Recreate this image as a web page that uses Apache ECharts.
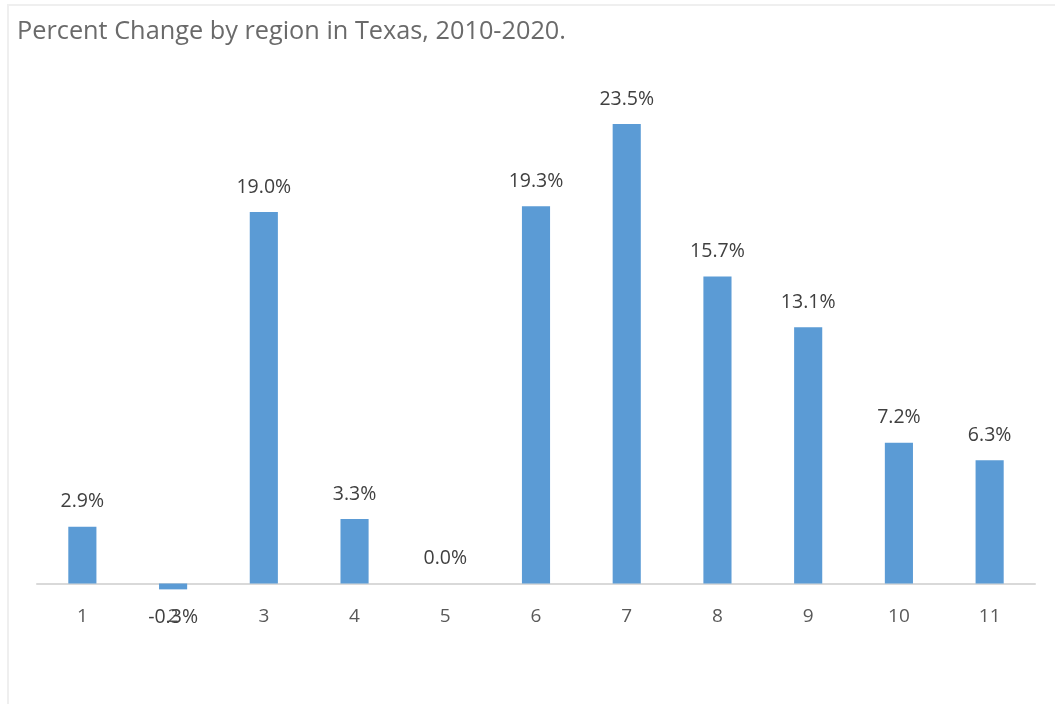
<!DOCTYPE html>
<html>
<head>
<meta charset="utf-8">
<script src="https://cdn.jsdelivr.net/npm/echarts@6/dist/echarts.min.js"></script>
<style>
html,body{margin:0;padding:0;background:#fff;}
#c{width:1055px;height:704px;}
</style>
</head>
<body>
<div id="c"></div>
<script>
const titleText = "Percent Change by region in Texas, 2010-2020.";
const categories = ["1","2","3","4","5","6","7","8","9","10","11"];
const values = [2.9, -0.3, 19.0, 3.3, 0.0, 19.3, 23.5, 15.7, 13.1, 7.2, 6.3];

const chart = echarts.init(document.getElementById('c'));
const FONT = '"Open Sans", "Noto Sans", sans-serif';
chart.setOption({
  animation: false,
  backgroundColor: '#fff',
  title: {
    text: titleText,
    left: 12, top: 14,
    textStyle: {fontFamily: FONT, fontSize: 25.3, fontWeight: 'normal', color: '#6a6a6a'}
  },
  graphic: [{
    type: 'rect', shape: {x: 8, y: 5, width: 1200, height: 900},
    style: {fill: 'none', stroke: '#efefef', lineWidth: 2}, silent: true
  }],
  grid: {left: 37, right: 20, top: 94.7, bottom: 120.5, containLabel: false},
  xAxis: {
    type: 'category', data: categories,
    axisLine: {lineStyle: {color: '#d9d9d9', width: 2}},
    axisTick: {show: false},
    axisLabel: {fontFamily: FONT, fontSize: 19, color: '#595959', margin: 24, interval: 0}
  },
  yAxis: {
    type: 'value', min: 0, max: 25, show: false, splitLine: {show: false}
  },
  series: [{
    type: 'bar',
    clip: false,
    data: values.map(v => ({
      value: v,
      label: {position: v < 0 ? 'bottom' : 'top', distance: v < 0 ? 18 : 15}
    })),
    barWidth: '31%',
    itemStyle: {color: '#5b9bd5'},
    label: {
      show: true,
      fontFamily: FONT, fontSize: 19.5, color: '#404040',
      formatter: p => p.value.toFixed(1) + '%'
    }
  }]
});
</script>
</body>
</html>
